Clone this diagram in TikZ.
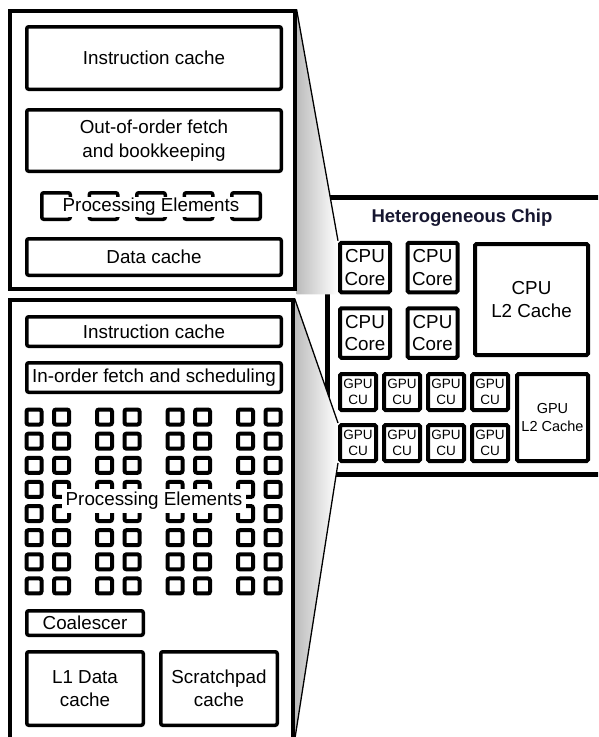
\documentclass[tikz,border=0pt]{standalone}
\usepackage{fontspec}
\setmainfont{Liberation Sans}
\usepackage{xcolor}
\usetikzlibrary{backgrounds}
\definecolor{titlecol}{RGB}{22,22,48}
\definecolor{zoomgray}{RGB}{188,188,188}

\begin{document}
\begin{tikzpicture}[
    x=1pt, y=-1pt,
    panel/.style={draw, line width=3.2pt, inner sep=0pt},
    blk/.style={draw, line width=3.5pt, rounded corners=2pt, inner sep=0pt, align=center,
        font=\fontsize{18.8}{23.5}\selectfont},
    cubox/.style={draw, line width=4pt, rounded corners=1.5pt, inner sep=0pt, align=center},
    pebox/.style={draw, line width=4pt, rounded corners=2pt, minimum size=15pt, inner sep=0pt},
    pelabel/.style={fill=white, inner xsep=4pt, inner ysep=3pt, font=\fontsize{18.8}{23.5}\selectfont},
    zoomfill/.style={left color=zoomgray, right color=white},
    zoomline/.style={line width=1.3pt}
]
\useasboundingbox (0,0) rectangle (598,737);
\clip (0,0) rectangle (598,737);

\node[panel, minimum width=285pt, minimum height=278pt] (ooo) at (152.5,150) {};
\node[blk, minimum width=254.5pt, minimum height=62.5pt] (icache1) at (154,58) {Instruction cache};
\node[blk, minimum width=254.5pt, minimum height=61.5pt] (ooofetch) at (154,140.5) {Out-of-order fetch\\and bookkeeping};
\foreach \i in {0,...,4}
    \node[blk, minimum width=28.5pt, minimum height=26.5pt] (tpe\i) at ({56+47.5*\i},206) {};
\node[pelabel, inner ysep=1pt] (pename1) at (151,207) {Processing Elements};
\node[blk, minimum width=254.5pt, minimum height=36.5pt] (dcache) at (154,257) {Data cache};

\node[panel, minimum width=283pt, minimum height=439pt] (ino) at (151.5,519.5) {};
\node[blk, minimum width=254.5pt, minimum height=29.5pt] (icache2) at (154,331.5) {Instruction cache};
\node[blk, minimum width=254.5pt, minimum height=29.5pt] (inofetch) at (154,377.5) {In-order fetch and scheduling};
\foreach \g in {0,...,3}
    \foreach \k in {0,1}
        \foreach \r in {0,...,7}
            \node[pebox] (pe-\g-\k-\r) at ({34+70.5*\g+27.5*\k},{417+24.14*\r}) {};
\node[pelabel] (pename2) at (154,501) {Processing Elements};
\node[blk, minimum width=116.5pt, minimum height=24.5pt] (coal) at (85,623) {Coalescer};
\node[blk, minimum width=116.5pt, minimum height=73.5pt] (l1) at (85,688.5) {L1 Data\\cache};
\node[blk, minimum width=116.5pt, minimum height=73.5pt] (scratch) at (219,688.5) {Scratchpad\\cache};

\node[font=\fontsize{18.5}{22}\selectfont\bfseries, text=titlecol] (chiptitle) at (462,218) {Heterogeneous Chip};
\foreach \r in {0,1}
    \foreach \c in {0,1}
        \node[cubox, minimum width=50pt, minimum height=49.5pt, font=\fontsize{18.8}{22.5}\selectfont]
            (core-\r-\c) at ({365+67.5*\c},{267.5+65.5*\r}) {CPU\\Core};
\node[cubox, minimum width=113pt, minimum height=111pt, font=\fontsize{18.8}{23.5}\selectfont] (cpul2) at (531.5,299.5) {CPU\\L2 Cache};
\foreach \r in {0,1}
    \foreach \c in {0,...,3}
        \node[cubox, minimum width=36pt, minimum height=36pt, font=\fontsize{13.5}{16.5}\selectfont]
            (gpu-\r-\c) at ({358+44*\c},{392+51*\r}) {GPU\\CU};
\node[cubox, minimum width=71pt, minimum height=87pt, font=\fontsize{14.5}{18}\selectfont] (gpul2) at (552.5,417.5) {GPU\\L2 Cache};

\begin{scope}[on background layer]
\clip (0,0) rectangle (598,737);
\node[draw, line width=5pt, minimum width=292.5pt, minimum height=277.5pt] (chip) at (473.75,335.75) {};
\path[zoomfill] (ooo.north east) -- (core-0-0.north west) -- (core-0-0.south west) -- (ooo.east |- core-0-0.south west) -- cycle;
\draw[zoomline] (ooo.north east) -- (core-0-0.north west);
\path[zoomfill] (ino.north east) -- (gpu-1-0.north west) -- (gpu-1-0.south west) -- (ino.south east) -- cycle;
\draw[zoomline] (ino.north east) -- (gpu-1-0.north west);
\draw[zoomline] (gpu-1-0.south west) -- (ino.south east);
\end{scope}
\end{tikzpicture}
\end{document}
